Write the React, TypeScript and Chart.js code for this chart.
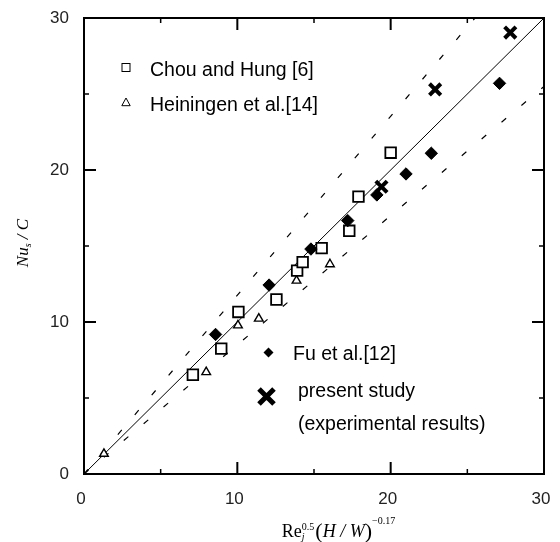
import React, { useEffect, useRef } from 'react';
import { Chart, registerables } from 'chart.js';
Chart.register(...registerables);

// Chou and Hung [6]
const chouX = [7.1, 8.95, 10.07, 12.55, 13.9, 14.26, 15.5, 17.3, 17.9, 20.0];
const chouY = [6.53, 8.25, 10.66, 11.48, 13.38, 13.94, 14.86, 16.0, 18.25, 21.14];
// Heiningen et al.[14]
const heinX = [1.3, 7.97, 10.04, 11.4, 13.86, 16.04];
const heinY = [1.33, 6.7, 9.78, 10.22, 12.72, 13.8];
// Fu et al.[12]
const fuX = [8.58, 12.07, 14.8, 17.2, 19.1, 21.0, 22.65, 27.1];
const fuY = [9.18, 12.43, 14.8, 16.67, 18.36, 19.74, 21.1, 25.7];
// present study
const presX = [19.4, 22.9, 27.8];
const presY = [18.9, 25.3, 29.04];
// reference lines
const diagX = [0, 30];
const diagY = [0, 30];
const upperX = [0, 25.5];
const upperY = [0, 30];
const lowerX = [0, 30];
const lowerY = [0, 25.5];

const axisMin = 0;
const axisMax = 30;
const tickLabels = ['0', '10', '20', '30'];

const pts = (xs: number[], ys: number[]) => xs.map((x, i) => ({ x, y: ys[i] }));

const SANS = '"Liberation Sans", Arial, sans-serif';
const SERIF = '"Liberation Serif", "Times New Roman", serif';

type Run = { t: string; font: string; dy: number; stack?: Run };

function measureRuns(ctx: CanvasRenderingContext2D, runs: Run[]) {
  let w = 0;
  for (const r of runs) {
    ctx.font = r.font;
    let rw = ctx.measureText(r.t).width;
    if (r.stack) {
      ctx.font = r.stack.font;
      rw = Math.max(rw, ctx.measureText(r.stack.t).width);
    }
    w += rw;
  }
  return w;
}

function drawRuns(ctx: CanvasRenderingContext2D, runs: Run[], cx: number, baseline: number) {
  const total = measureRuns(ctx, runs);
  let x = cx - total / 2;
  ctx.textAlign = 'left';
  ctx.textBaseline = 'alphabetic';
  for (const r of runs) {
    ctx.font = r.font;
    let rw = ctx.measureText(r.t).width;
    ctx.fillText(r.t, x, baseline + r.dy);
    if (r.stack) {
      ctx.font = r.stack.font;
      rw = Math.max(rw, ctx.measureText(r.stack.t).width);
      ctx.fillText(r.stack.t, x, baseline + r.stack.dy);
    }
    x += rw;
  }
}

const decorPlugin = {
  id: 'decor',
  afterDraw(chart: any) {
    const { ctx, chartArea } = chart;
    const { left, right, top, bottom } = chartArea;
    const xs = chart.scales.x;
    const ys = chart.scales.y;
    ctx.save();
    ctx.strokeStyle = '#000';
    ctx.fillStyle = '#000';
    // frame
    ctx.lineWidth = 2;
    ctx.strokeRect(left, top, right - left, bottom - top);
    // inward ticks on all sides
    for (let v = axisMin; v <= axisMax; v += 5) {
      const major = v % 10 === 0;
      const len = major ? 12 : 5;
      ctx.lineWidth = major ? 2 : 1.5;
      const px = xs.getPixelForValue(v);
      const py = ys.getPixelForValue(v);
      ctx.beginPath();
      ctx.moveTo(px, bottom); ctx.lineTo(px, bottom - len);
      ctx.moveTo(px, top); ctx.lineTo(px, top + len);
      ctx.moveTo(left, py); ctx.lineTo(left + len, py);
      ctx.moveTo(right, py); ctx.lineTo(right - len, py);
      ctx.stroke();
    }

    // legend
    ctx.lineWidth = 1;
    ctx.font = `19.5px ${SANS}`;
    ctx.textAlign = 'left';
    ctx.textBaseline = 'alphabetic';
    // square
    ctx.strokeRect(left + 42 - 4, top + 49.5 - 4, 8, 8);
    ctx.fillText('Chou and Hung [6]', left + 66, top + 57.5);
    // triangle
    ctx.beginPath();
    const tx = left + 42, ty = top + 84.5;
    ctx.moveTo(tx, ty - 4.5);
    ctx.lineTo(tx + 4.2, ty + 3.2);
    ctx.lineTo(tx - 4.2, ty + 3.2);
    ctx.closePath();
    ctx.stroke();
    ctx.fillText('Heiningen et al.[14]', left + 66, top + 92.5);
    // diamond
    const dx = left + 184.5, dy = top + 334.5;
    ctx.beginPath();
    ctx.moveTo(dx, dy - 5);
    ctx.lineTo(dx + 5, dy);
    ctx.lineTo(dx, dy + 5);
    ctx.lineTo(dx - 5, dy);
    ctx.closePath();
    ctx.fill();
    ctx.fillText('Fu et al.[12]', left + 209, top + 342);
    // big X
    const cxX = left + 182.5, cyX = top + 378.5;
    ctx.lineWidth = 5;
    ctx.beginPath();
    ctx.moveTo(cxX - 7.5, cyX - 7.5); ctx.lineTo(cxX + 7.5, cyX + 7.5);
    ctx.moveTo(cxX + 7.5, cyX - 7.5); ctx.lineTo(cxX - 7.5, cyX + 7.5);
    ctx.stroke();
    ctx.fillText('present study', left + 214, top + 379);
    ctx.fillText('(experimental results)', left + 214, top + 412);

    // x title
    const it = (s: number) => `italic ${s}px ${SERIF}`;
    const rm = (s: number) => `${s}px ${SERIF}`;
    drawRuns(ctx, [
      { t: 'Re', font: rm(18), dy: 0 },
      { t: 'j', font: it(10), dy: 3, stack: { t: '0.5', font: rm(10), dy: -7 } },
      { t: ' ', font: rm(4), dy: 0 },
      { t: '(', font: rm(22), dy: 1 },
      { t: 'H', font: it(18), dy: 0 },
      { t: ' / ', font: it(18), dy: 0 },
      { t: 'W', font: it(18), dy: 0 },
      { t: ')', font: rm(22), dy: 1 },
      { t: '\u22120.17', font: rm(10), dy: -13 },
    ], 338.5, 537);

    // y title
    ctx.save();
    ctx.translate(28, 243);
    ctx.rotate(-Math.PI / 2);
    drawRuns(ctx, [
      { t: 'Nu', font: it(17), dy: 0 },
      { t: 's', font: it(10), dy: 3 },
      { t: ' / ', font: it(17), dy: 0 },
      { t: 'C', font: it(17), dy: 0 },
    ], 0, 0);
    ctx.restore();

    ctx.restore();
  },
};

export default function App() {
  const ref = useRef<HTMLCanvasElement>(null);
  useEffect(() => {
    document.body.style.margin = '0';
    const canvas = ref.current!;
    const tickCb = (v: any) => {
      const i = [0, 10, 20, 30].indexOf(Number(v));
      return i >= 0 ? tickLabels[i] : '';
    };
    const chart = new Chart(canvas, {
      type: 'scatter',
      data: {
        datasets: [
          {
            label: 'Chou and Hung [6]',
            data: pts(chouX, chouY),
            pointStyle: 'rect',
            pointRadius: 7.5,
            borderWidth: 1.8,
            borderColor: '#000',
            backgroundColor: '#fff',
            order: 1,
          },
          {
            label: 'Heiningen et al.[14]',
            data: pts(heinX, heinY),
            pointStyle: 'triangle',
            pointRadius: 5,
            borderWidth: 1.4,
            borderColor: '#000',
            backgroundColor: '#fff',
            order: 1,
          },
          {
            label: 'Fu et al.[12]',
            data: pts(fuX, fuY),
            pointStyle: 'rectRot',
            pointRadius: 6.2,
            borderWidth: 1,
            borderColor: '#000',
            backgroundColor: '#000',
            order: 0,
          },
          {
            label: 'present study',
            data: pts(presX, presY),
            pointStyle: 'crossRot',
            pointRadius: 8,
            borderWidth: 4,
            borderColor: '#000',
            backgroundColor: '#000',
            order: 0,
          },
          {
            label: 'y=x',
            data: pts(diagX, diagY),
            showLine: true,
            pointRadius: 0,
            borderColor: '#000',
            borderWidth: 1,
            order: 5,
          },
          {
            label: 'upper',
            data: pts(upperX, upperY),
            showLine: true,
            pointRadius: 0,
            borderColor: '#000',
            borderWidth: 1.2,
            borderDash: [6, 20],
            order: 5,
          },
          {
            label: 'lower',
            data: pts(lowerX, lowerY),
            showLine: true,
            pointRadius: 0,
            borderColor: '#000',
            borderWidth: 1.2,
            borderDash: [6, 20],
            order: 5,
          },
        ],
      },
      options: {
        responsive: false,
        animation: false,
        events: [],
        layout: { padding: { top: 18, right: 16, left: 0, bottom: 0 } },
        plugins: { legend: { display: false }, tooltip: { enabled: false } },
        scales: {
          x: {
            type: 'linear',
            min: axisMin,
            max: axisMax,
            grid: { display: false, drawTicks: false },
            border: { display: false },
            ticks: {
              stepSize: 10,
              callback: tickCb,
              padding: 15,
              labelOffset: -3,
              color: '#222',
              font: { family: SANS, size: 17 },
              maxRotation: 0,
            },
            afterFit: (s: any) => {
              s.height = 68;
              s.paddingLeft = 0;
              s.paddingRight = 0;
            },
          },
          y: {
            type: 'linear',
            min: axisMin,
            max: axisMax,
            grid: { display: false, drawTicks: false },
            border: { display: false },
            ticks: {
              stepSize: 10,
              callback: tickCb,
              padding: 15,
              color: '#222',
              font: { family: SANS, size: 17 },
            },
            afterFit: (s: any) => {
              s.width = 84;
              s.paddingTop = 0;
              s.paddingBottom = 0;
            },
          },
        },
      },
      plugins: [decorPlugin],
    } as any);
    return () => chart.destroy();
  }, []);
  return (
    <div style={{ position: 'fixed', left: 0, top: 0, width: 560, height: 542, background: '#fff' }}>
      <canvas ref={ref} width={560} height={542} />
    </div>
  );
}
